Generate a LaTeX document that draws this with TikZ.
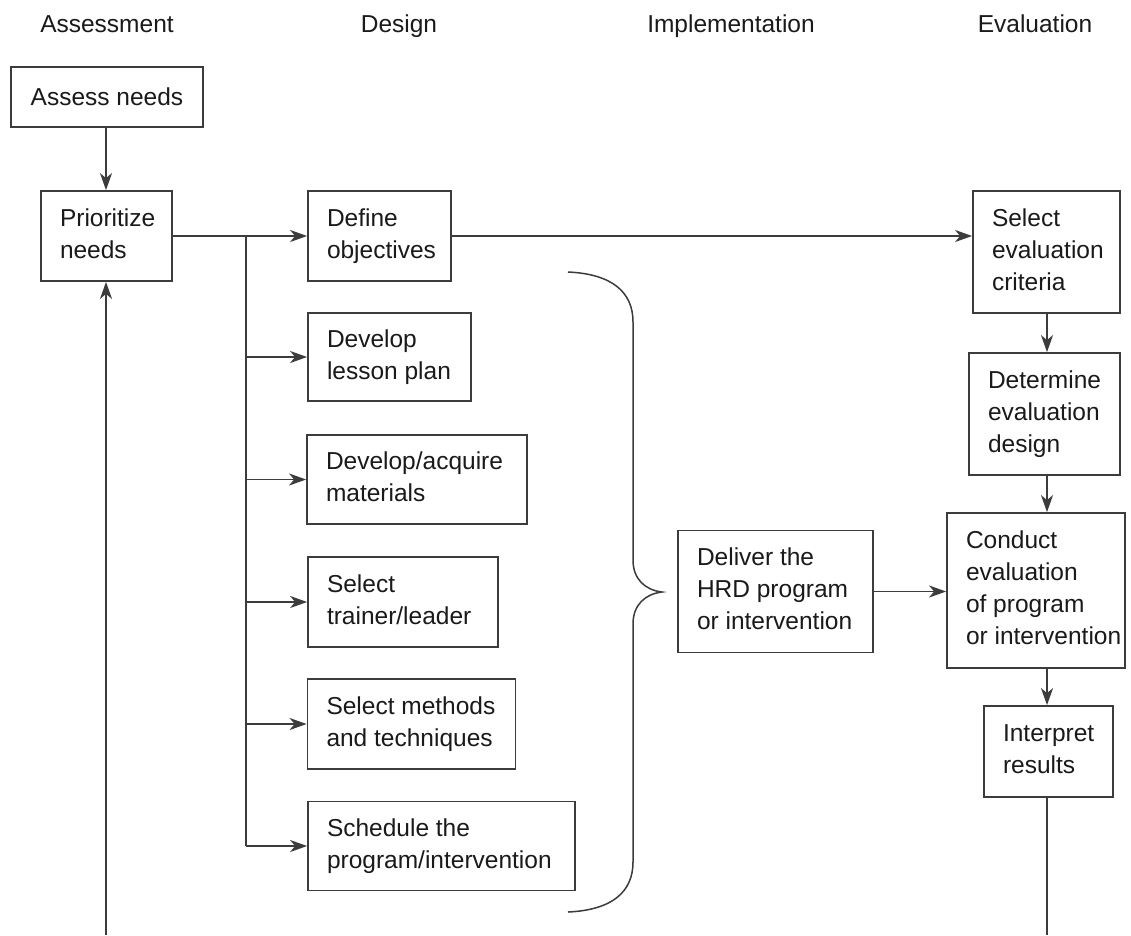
\documentclass[tikz,border=0pt]{standalone}
\usepackage{fontspec}
\setmainfont{Liberation Sans}
\usetikzlibrary{arrows.meta}
\definecolor{lc}{HTML}{3C3C3C}
\definecolor{tc}{HTML}{1A1A1A}
\newcommand{\boxtext}[2]{\makebox[#1][l]{\hspace*{19pt}\begin{tabular}{@{}l@{}}#2\end{tabular}}}
\tikzset{
  box/.style={draw=lc, line width=1.8pt, rectangle, inner xsep=0pt, inner ysep=0pt,
    font=\fontsize{24.5}{32}\selectfont, text=tc, anchor=center},
  arr/.style={draw=lc, line width=1.8pt, -{Stealth[length=17pt,width=12pt,inset=5pt]}},
  ln/.style={draw=lc, line width=1.8pt},
  brace/.style={draw=lc, line width=1.5pt},
  hdr/.style={font=\fontsize{24.5}{32}\selectfont, text=tc, inner sep=0pt, anchor=base}
}
\begin{document}
\begin{tikzpicture}[x=1pt,y=-1pt]
\fill[white] (0,0) rectangle (1131,935);
\useasboundingbox (0,0) rectangle (1131,935);
% headers
\node[hdr] (h1) at (107,32) {Assessment};
\node[hdr] (h2) at (399,32) {Design};
\node[hdr] (h3) at (731,32) {Implementation};
\node[hdr] (h4) at (1035,32) {Evaluation};
% boxes
\node[box, minimum width=192pt, minimum height=60pt] (assess) at (107,97) {Assess needs};
\node[box, minimum width=131pt, minimum height=90pt] (prio) at (106.5,236) {\boxtext{131pt}{Prioritize\\needs}};
\node[box, minimum width=143pt, minimum height=90pt] (defobj) at (379.5,236) {\boxtext{143pt}{Define\\objectives}};
\node[box, minimum width=163pt, minimum height=88pt] (lesson) at (389.5,357) {\boxtext{163pt}{Develop\\lesson plan}};
\node[box, minimum width=220pt, minimum height=89pt] (materials) at (417,479.5) {\boxtext{220pt}{Develop/acquire\\materials}};
\node[box, minimum width=190pt, minimum height=90pt] (trainer) at (403,602) {\boxtext{190pt}{Select\\trainer/leader}};
\node[box, minimum width=208pt, minimum height=90pt] (methods) at (411.5,724) {\boxtext{208pt}{Select methods\\and techniques}};
\node[box, minimum width=267pt, minimum height=89pt] (schedule) at (441.5,846) {\boxtext{267pt}{Schedule the\\program/intervention}};
\node[box, minimum width=195pt, minimum height=122pt] (deliver) at (775.5,591.5) {\boxtext{195pt}{Deliver the\\HRD program\\or intervention}};
\node[box, minimum width=147pt, minimum height=122pt] (criteria) at (1046.5,252) {\boxtext{147pt}{Select\\evaluation\\criteria}};
\node[box, minimum width=151pt, minimum height=122pt] (design) at (1044.5,414) {\boxtext{151pt}{Determine\\evaluation\\design}};
\node[box, minimum width=178pt, minimum height=155pt] (conduct) at (1036,590.5) {\boxtext{178pt}{Conduct\\evaluation\\of program\\or intervention}};
\node[box, minimum width=129pt, minimum height=91pt] (interpret) at (1048.5,751.5) {\boxtext{129pt}{Interpret\\results}};
% helper coordinates
\coordinate (ax) at (106,0);
\coordinate (ex) at (1047,0);
\coordinate (br) at (246,236);
\coordinate (fb) at (106,935);
\coordinate (ie) at (1047,935);
% connectors
\draw[arr] (ax |- assess.south) -- (ax |- prio.north);
\draw[arr] (prio.east) -- (defobj.west);
\draw[ln] (br) -- (br |- schedule.west);
\draw[arr] (br |- lesson.west) -- (lesson.west);
\draw[arr] (br |- materials.west) -- (materials.west);
\draw[arr] (br |- trainer.west) -- (trainer.west);
\draw[arr] (br |- methods.west) -- (methods.west);
\draw[arr] (br |- schedule.west) -- (schedule.west);
\draw[arr] (defobj.east) -- (defobj.east -| criteria.west);
\draw[arr] (ex |- criteria.south) -- (ex |- design.north);
\draw[arr] (ex |- design.south) -- (ex |- conduct.north);
\draw[arr] (ex |- conduct.south) -- (ex |- interpret.north);
\draw[arr] (deliver.east) -- (deliver.east -| conduct.west);
\draw[ln] (ex |- interpret.south) -- (ie);
\draw[arr] (fb) -- (fb |- prio.south);
% brace
\draw[brace] (568,272) .. controls (612,274) and (633,292) .. (633,322) -- (633,560)
  .. controls (633,579) and (645,590) .. (662,592)
  .. controls (645,594) and (633,605) .. (633,624) -- (633,862)
  .. controls (633,892) and (612,910) .. (568,912);
\end{tikzpicture}
\end{document}
